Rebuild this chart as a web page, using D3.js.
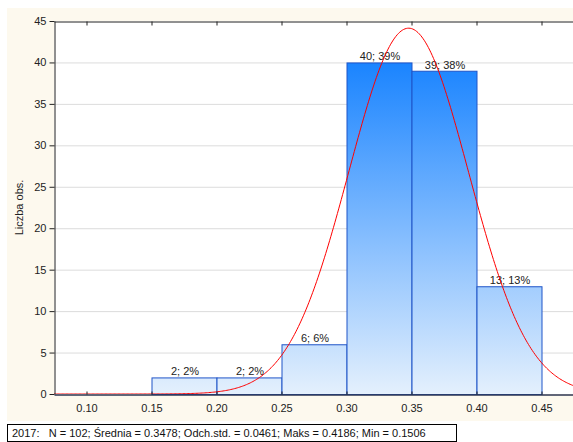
<!DOCTYPE html>
<html>
<head>
<style>
  body { margin: 0; background: #fff; }
  text { font-family: Arial, "Liberation Sans", sans-serif; }
</style>
</head>
<body>
<script src="https://d3js.org/d3.v7.min.js"></script>
<script>

const width = 573;
const height = 442;

// histogram bins (lower edge, upper edge) and counts
const binStarts = [0.15, 0.20, 0.25, 0.30, 0.35, 0.40];
const binWidth = 0.05;
const counts = [2, 2, 6, 40, 39, 13];
const percents = [2, 2, 6, 39, 38, 13];

const xTicks = [0.10, 0.15, 0.20, 0.25, 0.30, 0.35, 0.40, 0.45];
const yTicks = [0, 5, 10, 15, 20, 25, 30, 35, 40, 45];

// summary stats shown in the legend
const nObs = 102;
const mean = 0.3478;
const sd = 0.0461;
const maxVal = 0.4186;
const minVal = 0.1506;

const plotL = 54, plotT = 21, plotR = 574, plotB = 394;

const svg = d3.select('body')
              .append('svg')
              .attr('width', width)
              .attr('height', height);

// cream panel
svg.append('rect')
   .attr('x', 7).attr('y', 8)
   .attr('width', width - 7).attr('height', 413)
   .attr('fill', '#fdf9ee');

svg.append('rect')
   .attr('x', plotL).attr('y', plotT)
   .attr('width', plotR - plotL).attr('height', plotB - plotT)
   .attr('fill', '#fff');

const x = d3.scaleLinear().domain([0.075, 0.475]).range([plotL, plotR]);
const y = d3.scaleLinear().domain([0, 45]).range([plotB, plotT]);

const defs = svg.append('defs');
const grad = defs.append('linearGradient')
                 .attr('id', 'barGrad')
                 .attr('gradientUnits', 'userSpaceOnUse')
                 .attr('x1', 0).attr('x2', 0)
                 .attr('y1', y(40)).attr('y2', y(0));
grad.append('stop').attr('offset', '0%').attr('stop-color', '#1a84ff');
grad.append('stop').attr('offset', '100%').attr('stop-color', '#e4f0fd');

defs.append('clipPath').attr('id', 'plotClip')
    .append('rect')
    .attr('x', plotL).attr('y', plotT)
    .attr('width', plotR - plotL).attr('height', plotB - plotT);

// grid lines
svg.append('g')
   .selectAll('line')
   .data(yTicks.filter(d => d > 0 && d < 45))
   .enter()
   .append('line')
   .attr('x1', plotL).attr('x2', plotR)
   .attr('y1', d => y(d) + 0.5).attr('y2', d => y(d) + 0.5)
   .attr('stroke', '#dcdcdc');

// bars
const bins = binStarts.map((s, i) => ({ x0: s, x1: s + binWidth, n: counts[i], p: percents[i] }));

svg.append('g')
   .selectAll('rect')
   .data(bins)
   .enter()
   .append('rect')
   .attr('x', d => x(d.x0) + 0.5)
   .attr('y', d => y(d.n) + 0.5)
   .attr('width', d => x(d.x1) - x(d.x0))
   .attr('height', d => y(0) - y(d.n))
   .attr('fill', 'url(#barGrad)')
   .attr('stroke', '#1f55c8')
   .attr('stroke-width', 1);

svg.append('g')
   .selectAll('text')
   .data(bins)
   .enter()
   .append('text')
   .attr('x', d => (x(d.x0) + x(d.x1)) / 2 + 1)
   .attr('y', d => y(d.n) - 2)
   .attr('text-anchor', 'middle')
   .attr('font-size', 11)
   .attr('fill', '#222')
   .text(d => d.n + '; ' + d.p + '%');

// fitted normal curve from N, mean, sd
const normal = v => nObs * binWidth * Math.exp(-0.5 * ((v - mean) / sd) ** 2) / (sd * Math.sqrt(2 * Math.PI));
const curvePts = d3.range(0.075, 0.4751, 0.001).map(v => [v, normal(v)]);

svg.append('path')
   .datum(curvePts)
   .attr('clip-path', 'url(#plotClip)')
   .attr('d', d3.line().x(d => x(d[0])).y(d => y(d[1])))
   .attr('fill', 'none')
   .attr('stroke', '#ff0000')
   .attr('stroke-width', 1);

// axes
const yAxis = svg.append('g')
                 .attr('transform', `translate(${plotL + 0.5},0)`)
                 .call(d3.axisLeft(y).tickValues(yTicks).tickSize(5).tickPadding(3).tickSizeOuter(0));
yAxis.select('.domain').attr('stroke', '#222');
yAxis.selectAll('.tick line').attr('stroke', '#222');
yAxis.selectAll('text').attr('font-size', 11).attr('fill', '#222')
     .attr('font-family', 'Arial, "Liberation Sans", sans-serif');

const xAxis = svg.append('g')
                 .attr('transform', `translate(0,${plotB + 0.5})`)
                 .call(d3.axisBottom(x).tickValues(xTicks).tickFormat(d3.format('.2f')).tickSize(-3).tickPadding(10).tickSizeOuter(0));
xAxis.select('.domain').attr('stroke', '#2c3550').attr('stroke-width', 1.5);
xAxis.selectAll('.tick line').attr('stroke', '#222');
xAxis.selectAll('text').attr('font-size', 11).attr('fill', '#222')
     .attr('font-family', 'Arial, "Liberation Sans", sans-serif');

const topAxis = svg.append('g')
                   .attr('transform', `translate(0,${plotT + 0.5})`)
                   .call(d3.axisTop(x).tickValues(xTicks).tickFormat('').tickSize(-4).tickSizeOuter(0));
topAxis.select('.domain').attr('stroke', '#222');
topAxis.selectAll('.tick line').attr('stroke', '#222');

// y label
svg.append('text')
   .attr('transform', `translate(23,${(plotT + plotB) / 2}) rotate(-90)`)
   .attr('text-anchor', 'middle')
   .attr('font-size', 11)
   .attr('fill', '#222')
   .text('Liczba obs.');

// legend
const legendText = '2017:\u00a0\u00a0\u00a0N = ' + nObs + '; Średnia = ' + mean.toFixed(4) +
  '; Odch.std. = ' + sd.toFixed(4) + '; Maks = ' + maxVal.toFixed(4) + '; Min = ' + minVal.toFixed(4);

svg.append('rect')
   .attr('x', 7.5).attr('y', 424.5)
   .attr('width', 449).attr('height', 17)
   .attr('fill', '#fff')
   .attr('stroke', '#000');

svg.append('text')
   .attr('x', 12)
   .attr('y', 437)
   .attr('font-size', 11)
   .attr('fill', '#111')
   .text(legendText);

</script>
</body>
</html>
